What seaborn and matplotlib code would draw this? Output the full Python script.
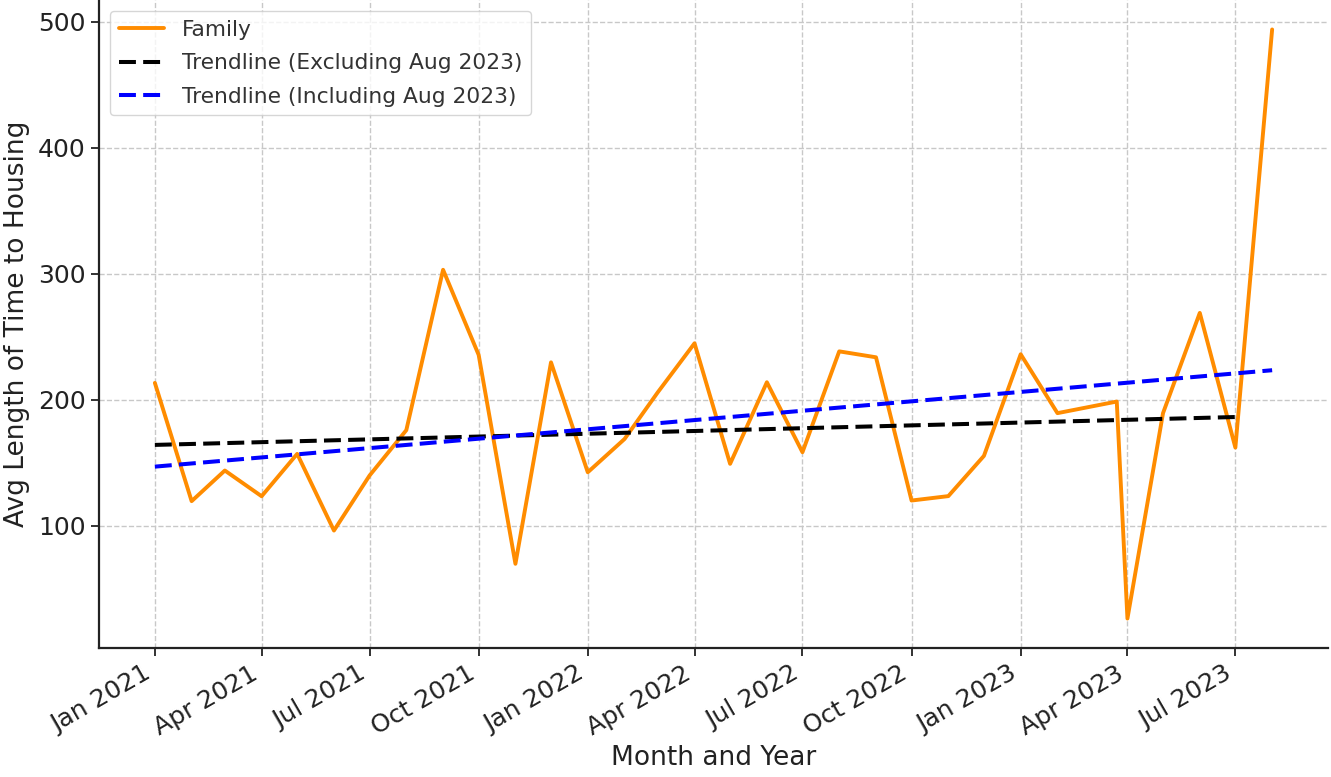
import numpy as np
import pandas as pd
import matplotlib
matplotlib.use("Agg")
import matplotlib.pyplot as plt
import matplotlib.dates as mdates
import seaborn as sns

# Monthly average length of time to housing for families
dates = pd.to_datetime([
    "2021-01-01", "2021-02-01", "2021-03-01", "2021-04-01", "2021-05-01", "2021-06-01",
    "2021-07-01", "2021-08-01", "2021-09-01", "2021-10-01", "2021-11-01", "2021-12-01",
    "2022-01-01", "2022-02-01", "2022-03-01", "2022-04-01", "2022-05-01", "2022-06-01",
    "2022-07-01", "2022-08-01", "2022-09-01", "2022-10-01", "2022-11-01", "2022-12-01",
    "2023-01-01", "2023-02-01", "2023-03-23", "2023-04-01", "2023-05-01", "2023-06-01",
    "2023-07-01", "2023-08-01",
])
family = [
    213.5, 119.7, 144.0, 123.6, 157.2, 96.4,
    140.0, 176.0, 303.2, 235.7, 70.0, 229.8,
    142.6, 169.0, 206.0, 244.9, 149.3, 214.0,
    158.5, 238.5, 233.8, 120.2, 123.7, 155.6,
    236.2, 189.5, 198.7, 26.6, 189.5, 269.0,
    162.2, 493.8,
]

df = pd.DataFrame({"date": dates, "family": family})
df["t"] = mdates.date2num(df["date"])

# Linear trends with and without the final (Aug 2023) month
excl = df.iloc[:-1]
c_ex = np.polyfit(excl["t"], excl["family"], 1)
c_in = np.polyfit(df["t"], df["family"], 1)
trend_ex = pd.DataFrame({"date": excl["date"], "y": np.polyval(c_ex, excl["t"])})
trend_in = pd.DataFrame({"date": df["date"], "y": np.polyval(c_in, df["t"])})

sns.set_style("white")
plt.rcParams["font.family"] = ["DejaVu Sans"]

fig = plt.figure(figsize=(13.31, 7.77), dpi=100)
ax = fig.add_axes([99 / 1331, 129 / 777, 1229 / 1331, 648 / 777])

sns.lineplot(data=df, x="date", y="family", ax=ax, color="#FF8C00", lw=2.8, label="Family")
sns.lineplot(data=trend_ex, x="date", y="y", ax=ax, color="black", lw=2.9,
             linestyle="--", label="Trendline (Excluding Aug 2023)")
sns.lineplot(data=trend_in, x="date", y="y", ax=ax, color="blue", lw=2.9,
             linestyle="--", label="Trendline (Including Aug 2023)")
for ln in ax.get_lines()[1:]:
    ln.set_dashes((4.2, 1.8))

ax.xaxis.set_major_locator(mdates.MonthLocator(bymonth=[1, 4, 7, 10]))
ax.xaxis.set_major_formatter(mdates.DateFormatter("%b %Y"))
ax.set_yticks([100, 200, 300, 400, 500])

ax.grid(True, linestyle="--", color="#c8c8c8", lw=1.0)
for s in ["top", "right"]:
    ax.spines[s].set_visible(False)
for s in ["left", "bottom"]:
    ax.spines[s].set_color("#222222")
    ax.spines[s].set_linewidth(1.6)

ax.tick_params(axis="both", which="major", length=6, width=1.3, color="#222222",
               labelsize=18, labelcolor="#222222", bottom=True, left=True)
for lbl in ax.get_xticklabels():
    lbl.set_rotation(30)
    lbl.set_ha("right")

ax.set_xlabel("Month and Year", fontsize=19, color="#222222", labelpad=4)
ax.set_ylabel("Avg Length of Time to Housing", fontsize=19, color="#222222", labelpad=6)

leg = ax.legend(loc="upper left", fontsize=15.7, frameon=True, handlelength=2.1,
                labelspacing=0.62, borderaxespad=0.5)
leg.get_frame().set_edgecolor("#cccccc")
for t in leg.get_texts():
    t.set_color("#333333")

fig.savefig("out.png", dpi=100)
